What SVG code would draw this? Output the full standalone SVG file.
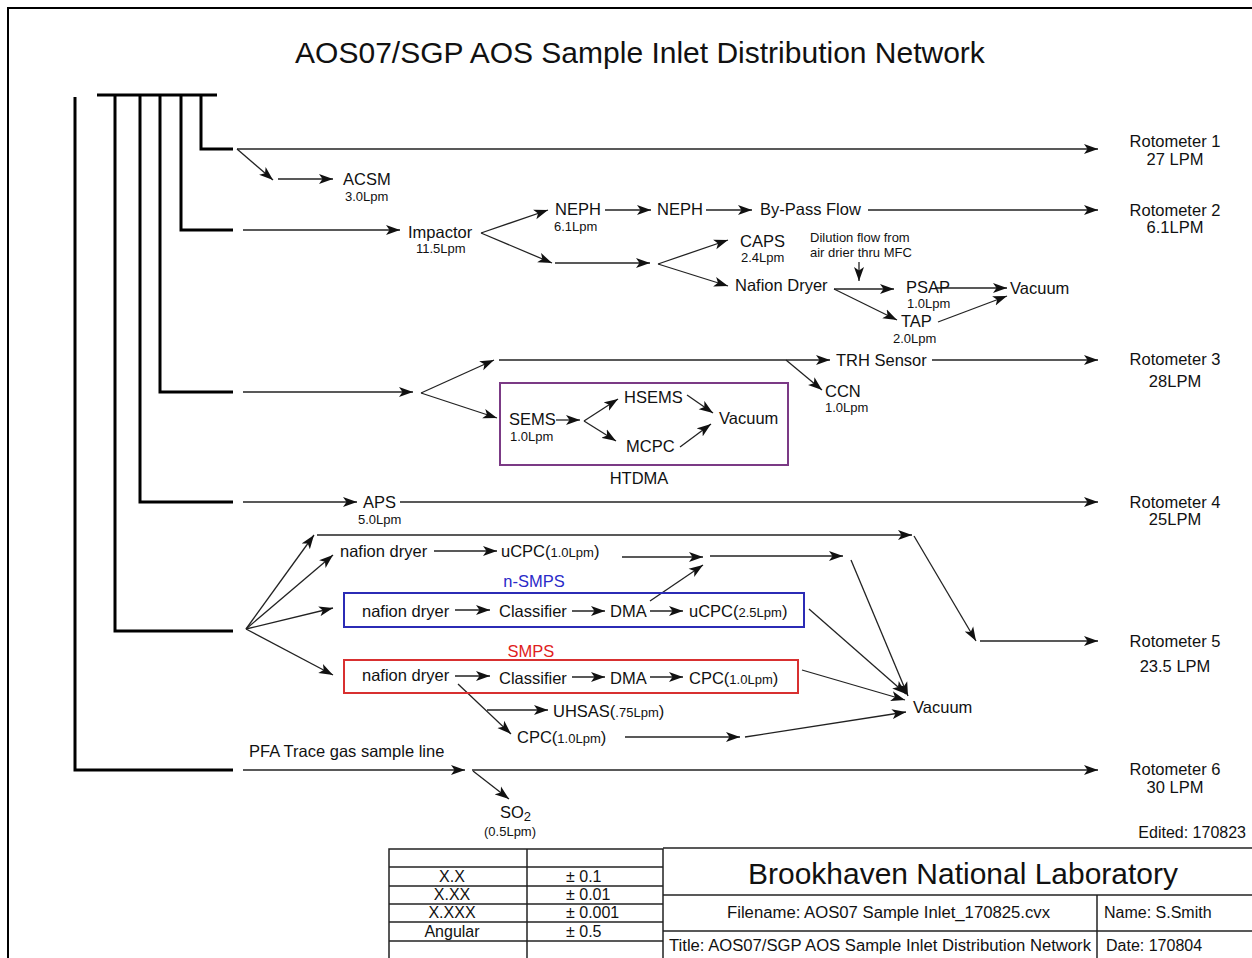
<svg xmlns="http://www.w3.org/2000/svg" width="1252" height="958" viewBox="0 0 1252 958">
<defs>
<marker id="ah" markerUnits="userSpaceOnUse" markerWidth="15" markerHeight="11" refX="14" refY="5.5" orient="auto">
<path d="M0,0.5 L14,5.5 L0,10.5 L3.5,5.5 z" fill="#111"/>
</marker>
<style>
text{font-family:"Liberation Sans",Arial,sans-serif;fill:#111}
.m{font-size:16.5px}
.s{font-size:13px}
.c{text-anchor:middle}
.cn line,.cn polyline{stroke:#222;stroke-width:1.3;fill:none;marker-end:url(#ah)}
.man{stroke:#000;stroke-width:3;fill:none}
.tb{stroke:#222;stroke-width:1.5;fill:none}
.t{font-size:16px}
</style>
</defs>
<rect x="0" y="0" width="1252" height="958" fill="#fff"/>
<rect x="8" y="8" width="1270" height="980" fill="none" stroke="#000" stroke-width="2"/>
<text id="title" x="640" y="63" class="c" style="font-size:30px">AOS07/SGP AOS Sample Inlet Distribution Network</text>

<g id="manifold">
<line class="man" x1="97" y1="95" x2="217" y2="95"/>
<polyline class="man" points="75,97 75,770 233,770"/>
<polyline class="man" points="201,95 201,149 233,149"/>
<polyline class="man" points="181,95 181,230 233,230"/>
<polyline class="man" points="160,95 160,392 233,392"/>
<polyline class="man" points="140,95 140,502 233,502"/>
<polyline class="man" points="115,95 115,631 233,631"/>
</g>

<g class="cn" id="connectors">
<line x1="237" y1="149" x2="1098" y2="149"/>
<line x1="237" y1="149" x2="273" y2="180"/>
<line x1="278" y1="179" x2="333" y2="179"/>
<line x1="243" y1="230" x2="400" y2="230"/>
<line x1="481" y1="233" x2="548" y2="210"/>
<line x1="481" y1="233" x2="552" y2="263"/>
<line x1="605" y1="210" x2="651" y2="210"/>
<line x1="706" y1="210" x2="752" y2="210"/>
<line x1="868" y1="210" x2="1098" y2="210"/>
<line x1="555" y1="263" x2="650" y2="263"/>
<line x1="658" y1="264" x2="728" y2="240"/>
<line x1="658" y1="264" x2="728" y2="286"/>
<line x1="859" y1="262" x2="859" y2="281"/>
<line x1="834" y1="289" x2="894" y2="289"/>
<line x1="834" y1="289" x2="897" y2="320"/>
<line x1="935" y1="288" x2="1007" y2="288"/>
<line x1="938" y1="322" x2="1007" y2="296"/>
<line x1="243" y1="392" x2="413" y2="392"/>
<line x1="421" y1="393" x2="494" y2="360"/>
<line x1="421" y1="393" x2="497" y2="418"/>
<line x1="499" y1="360" x2="830" y2="360"/>
<line x1="786" y1="360" x2="822" y2="390"/>
<line x1="932" y1="360" x2="1098" y2="360"/>
<line x1="556" y1="420" x2="580" y2="420"/>
<line x1="584" y1="421" x2="618" y2="399"/>
<line x1="584" y1="421" x2="616" y2="441"/>
<line x1="687" y1="395" x2="713" y2="413"/>
<line x1="680" y1="447" x2="711" y2="424"/>
<line x1="243" y1="502" x2="357" y2="502"/>
<line x1="400" y1="502" x2="1098" y2="502"/>
<line x1="246" y1="629" x2="314" y2="535"/>
<line x1="246" y1="629" x2="333" y2="555"/>
<line x1="246" y1="629" x2="333" y2="608"/>
<line x1="246" y1="629" x2="333" y2="675"/>
<line x1="317" y1="535" x2="912" y2="535"/>
<line x1="914" y1="536" x2="976" y2="641"/>
<line x1="980" y1="641" x2="1098" y2="641"/>
<line x1="434" y1="551" x2="497" y2="551"/>
<line x1="622" y1="557" x2="703" y2="557"/>
<line x1="710" y1="556" x2="843" y2="556"/>
<line x1="851" y1="560" x2="908" y2="696"/>
<line x1="650" y1="601" x2="703" y2="565"/>
<line x1="455" y1="610" x2="490" y2="610"/>
<line x1="572" y1="611" x2="605" y2="611"/>
<line x1="650" y1="611" x2="683" y2="611"/>
<line x1="809" y1="609" x2="906" y2="694"/>
<line x1="455" y1="676" x2="490" y2="676"/>
<line x1="572" y1="677" x2="605" y2="677"/>
<line x1="650" y1="677" x2="683" y2="677"/>
<line x1="802" y1="670" x2="905" y2="700"/>
<line x1="458" y1="684" x2="511" y2="734"/>
<line x1="487" y1="710" x2="548" y2="710"/>
<line x1="625" y1="737" x2="740" y2="737"/>
<line x1="745" y1="737" x2="906" y2="712"/>
<line x1="243" y1="770" x2="465" y2="770"/>
<line x1="472" y1="770" x2="1098" y2="770"/>
<line x1="473" y1="771" x2="509" y2="799"/>
</g>

<g id="rot1"><text class="m c" x="1175" y="147">Rotometer 1</text><text class="m c" x="1175" y="165">27 LPM</text></g>
<g id="rot2"><text class="m c" x="1175" y="216">Rotometer 2</text><text class="m c" x="1175" y="233">6.1LPM</text></g>
<g id="rot3"><text class="m c" x="1175" y="365">Rotometer 3</text><text class="m c" x="1175" y="387">28LPM</text></g>
<g id="rot4"><text class="m c" x="1175" y="508">Rotometer 4</text><text class="m c" x="1175" y="525">25LPM</text></g>
<g id="rot5"><text class="m c" x="1175" y="647">Rotometer 5</text><text class="m c" x="1175" y="672">23.5 LPM</text></g>
<g id="rot6"><text class="m c" x="1175" y="775">Rotometer 6</text><text class="m c" x="1175" y="793">30 LPM</text></g>

<g id="acsm"><text class="m" x="343" y="185">ACSM</text><text class="s" x="345" y="201">3.0Lpm</text></g>
<g id="impactor"><text class="m" x="408" y="238">Impactor</text><text class="s" x="416" y="253">11.5Lpm</text></g>
<g id="neph1"><text class="m" x="555" y="215">NEPH</text><text class="s" x="554" y="231">6.1Lpm</text></g>
<g id="neph2"><text class="m" x="657" y="215">NEPH</text></g>
<g id="bypass"><text class="m" x="760" y="215">By-Pass Flow</text></g>
<g id="caps"><text class="m" x="740" y="247">CAPS</text><text class="s" x="741" y="262">2.4Lpm</text></g>
<g id="nafion"><text class="m" x="735" y="291">Nafion Dryer</text></g>
<g id="dilution"><text class="s" x="810" y="242">Dilution flow from</text><text class="s" x="810" y="257">air drier thru MFC</text></g>
<g id="psap"><text class="m" x="906" y="293">PSAP</text><text class="s" x="907" y="308">1.0Lpm</text></g>
<g id="tap"><text class="m" x="901" y="327">TAP</text><text class="s" x="893" y="343">2.0Lpm</text></g>
<g id="vac1"><text class="m" x="1010" y="294">Vacuum</text></g>
<g id="trh"><text class="m" x="836" y="366">TRH Sensor</text></g>
<g id="ccn"><text class="m" x="825" y="397">CCN</text><text class="s" x="825" y="412">1.0Lpm</text></g>

<g id="htdma">
<rect x="500" y="383" width="288" height="82" fill="none" stroke="#7b3a85" stroke-width="2"/>
<text class="m c" x="639" y="484">HTDMA</text>
<text class="m" x="509" y="425">SEMS</text><text class="s" x="510" y="441">1.0Lpm</text>
<text class="m" x="624" y="403">HSEMS</text>
<text class="m" x="626" y="452">MCPC</text>
<text class="m" x="719" y="424">Vacuum</text>
</g>

<g id="aps"><text class="m" x="363" y="508">APS</text><text class="s" x="358" y="524">5.0Lpm</text></g>

<g id="ucpc1"><text class="m" x="340" y="557">nafion dryer</text><text class="m" x="501" y="557">uCPC(<tspan class="s">1.0Lpm</tspan>)</text></g>

<g id="nsmps">
<text class="m c" x="534" y="587" style="fill:#2a2ac8">n-SMPS</text>
<rect x="344" y="593" width="460" height="34" fill="none" stroke="#2b2bb5" stroke-width="2"/>
<text class="m" x="362" y="617">nafion dryer</text>
<text class="m" x="499" y="617">Classifier</text>
<text class="m" x="610" y="617">DMA</text>
<text class="m" x="689" y="617">uCPC(<tspan class="s">2.5Lpm</tspan>)</text>
</g>

<g id="smps">
<text class="m c" x="531" y="657" style="fill:#e02020">SMPS</text>
<rect x="344" y="660" width="454" height="33" fill="none" stroke="#d83030" stroke-width="2"/>
<text class="m" x="362" y="681">nafion dryer</text>
<text class="m" x="499" y="684">Classifier</text>
<text class="m" x="610" y="684">DMA</text>
<text class="m" x="689" y="684">CPC(<tspan class="s">1.0Lpm</tspan>)</text>
</g>

<g id="uhsas"><text class="m" x="553" y="717">UHSAS(<tspan class="s">.75Lpm</tspan>)</text></g>
<g id="cpc2"><text class="m" x="517" y="743">CPC(<tspan class="s">1.0Lpm</tspan>)</text></g>
<g id="vac2"><text class="m" x="913" y="713">Vacuum</text></g>

<g id="pfa"><text class="m" x="249" y="757">PFA Trace gas sample line</text></g>
<g id="so2"><text class="m" x="500" y="818">SO<tspan class="s" dy="3">2</tspan></text><text class="s" x="484" y="836">(0.5Lpm)</text></g>

<text class="m" x="1246" y="838" text-anchor="end" style="font-size:16px">Edited: 170823</text>

<g id="tolerance-table">
<rect class="tb" x="389" y="849" width="274" height="120"/>
<line class="tb" x1="527" y1="849" x2="527" y2="958"/>
<line class="tb" x1="389" y1="867" x2="663" y2="867"/>
<line class="tb" x1="389" y1="886" x2="663" y2="886"/>
<line class="tb" x1="389" y1="904" x2="663" y2="904"/>
<line class="tb" x1="389" y1="922" x2="663" y2="922"/>
<line class="tb" x1="389" y1="941" x2="663" y2="941"/>
<text class="t c" x="452" y="882">X.X</text>
<text class="t c" x="452" y="900">X.XX</text>
<text class="t c" x="452" y="918">X.XXX</text>
<text class="t c" x="452" y="937">Angular</text>
<text class="t" x="566" y="882">± 0.1</text>
<text class="t" x="566" y="900">± 0.01</text>
<text class="t" x="566" y="918">± 0.001</text>
<text class="t" x="566" y="937">± 0.5</text>
</g>

<g id="title-block">
<line class="tb" x1="663" y1="848" x2="1252" y2="848"/>
<line class="tb" x1="663" y1="895" x2="1252" y2="895"/>
<line class="tb" x1="663" y1="931" x2="1252" y2="931"/>
<line class="tb" x1="1097" y1="895" x2="1097" y2="958"/>
<text x="963" y="884" class="c" style="font-size:30px" textLength="430" lengthAdjust="spacingAndGlyphs">Brookhaven National Laboratory</text>
<text class="t" x="727" y="918" textLength="323" lengthAdjust="spacingAndGlyphs">Filename: AOS07 Sample Inlet_170825.cvx</text>
<text class="t" x="1104" y="918">Name: S.Smith</text>
<text class="t" x="669" y="951" textLength="422" lengthAdjust="spacingAndGlyphs">Title: AOS07/SGP AOS Sample Inlet Distribution Network</text>
<text class="t" x="1106" y="951">Date: 170804</text>
</g>
</svg>
